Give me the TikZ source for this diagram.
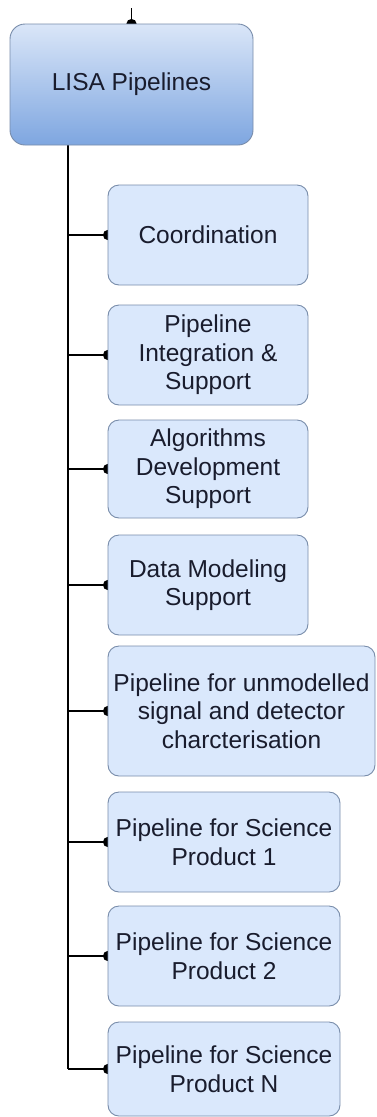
\documentclass[tikz,border=0pt]{standalone}
\usepackage{fontspec}
\setmainfont{Liberation Sans}
\usetikzlibrary{arrows.meta,calc}
\pgfdeclarelayer{paper}
\pgfdeclarelayer{background}
\pgfsetlayers{paper,background,main}
\definecolor{childfill}{RGB}{218,232,252}
\definecolor{boxline}{RGB}{120,140,170}
\definecolor{topfill}{RGB}{218,230,248}
\definecolor{botfill}{RGB}{126,166,224}
\definecolor{txt}{RGB}{25,28,45}
\begin{document}
\begin{tikzpicture}[x=1pt,y=-1pt,
  every node/.style={font=\fontsize{24.5}{28.5}\selectfont, text=txt, align=center, inner sep=0pt},
  child/.style={draw=boxline, line width=0.9pt, fill=childfill, rounded corners=11pt},
  rootbox/.style={draw=boxline, line width=0.9pt, top color=topfill, bottom color=botfill, rounded corners=15pt, minimum width=243pt, minimum height=121pt},
  link/.style={line width=1.3pt, black, -{Circle[length=9pt,width=10pt]}, shorten >=-4.5pt},
  plain/.style={line width=1.3pt, black}]
\useasboundingbox (0,0) rectangle (376,1117);
\begin{pgfonlayer}{paper}
\fill[white] (0,0) rectangle (376,1117);
\end{pgfonlayer}

\node[rootbox] (lisa) at (131.5,84.5) {LISA Pipelines};
\coordinate (top) at (131.5,8);
\coordinate (tx) at (68,0);

\node[child, minimum width=200pt, minimum height=100pt] (b1) at (208,235) {Coordination};
\node[child, minimum width=200pt, minimum height=100pt] (b2) at (208,355) {Pipeline\\Integration \&\\Support};
\node[child, minimum width=200pt, minimum height=98pt] (b3) at (208,469) {Algorithms\\Development\\Support};
\node[child, minimum width=200pt, minimum height=100pt] (b4) at (208,585) {Data Modeling\\Support};
\node[child, minimum width=267pt, minimum height=130pt] (b5) at (241.5,711) {Pipeline for unmodelled\\signal and detector\\charcterisation};
\node[child, minimum width=232pt, minimum height=100pt] (b6) at (224,842) {Pipeline for Science\\Product 1};
\node[child, minimum width=232pt, minimum height=100pt] (b7) at (224,956) {Pipeline for Science\\Product 2};
\node[child, minimum width=232pt, minimum height=94pt] (b8) at (224,1069) {Pipeline for Science\\Product N};

\begin{pgfonlayer}{background}
\draw[link] (top) -- (lisa.north);
\draw[plain] (lisa.south -| tx) -- (b8.west -| tx);
\draw[link] (b8.west -| tx) -- (b8.west);
\foreach \b in {b1,b2,b3,b4,b5,b6,b7}{
  \draw[link] (\b.west -| tx) -- (\b.west);
}
\end{pgfonlayer}
\end{tikzpicture}
\end{document}
